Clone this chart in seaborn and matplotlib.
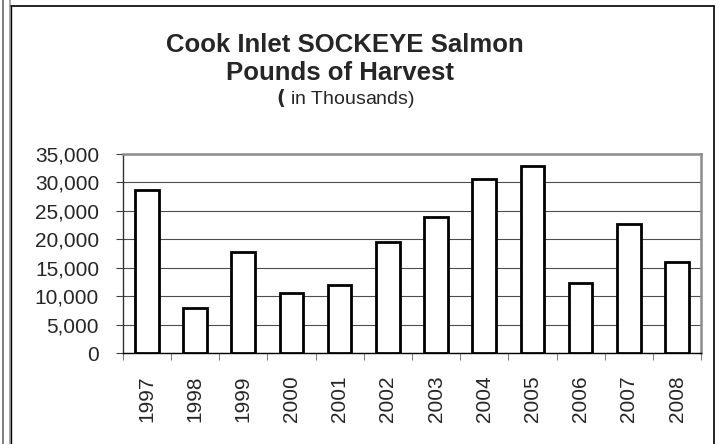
import numpy as np
import pandas as pd
import seaborn as sns
import matplotlib.pyplot as plt
from matplotlib.lines import Line2D
from matplotlib.ticker import FuncFormatter, FixedLocator

years = ['1997', '1998', '1999', '2000', '2001', '2002',
         '2003', '2004', '2005', '2006', '2007', '2008']
pounds = [28700, 8000, 17850, 10600, 12050, 19600,
          23900, 30600, 32900, 12300, 22650, 16100]

df = pd.DataFrame({'year': years, 'pounds': pounds})

sns.set_style('white')
plt.rcParams['font.family'] = ['Liberation Sans', 'DejaVu Sans']

fig = plt.figure(figsize=(7.19, 4.44), dpi=100)
ax = fig.add_axes([0.1707, 0.2043, 0.8045, 0.4489])

sns.barplot(data=df, x='year', y='pounds', color='white', edgecolor='black',
            linewidth=2.0, width=0.49, saturation=1, ax=ax, zorder=3)

ax.set_xlim(-0.5, 11.5)
ax.set_ylim(0, 35000)
ax.set_yticks(np.arange(0, 35001, 5000))
ax.yaxis.set_major_formatter(FuncFormatter(lambda v, p: f'{int(v):,}'))
ax.grid(axis='y', color='#4d4d4d', linewidth=0.8, zorder=0)
ax.set_axisbelow(True)

ax.set_xlabel('')
ax.set_ylabel('')
ax.tick_params(axis='y', labelsize=15, length=5, width=0.8, color='#404040',
               direction='out', left=True, pad=12)
ax.tick_params(axis='x', which='major', labelsize=15, length=0, pad=16,
               labelrotation=90)
ax.xaxis.set_minor_locator(FixedLocator(np.arange(-0.5, 12, 1)))
ax.tick_params(axis='x', which='minor', length=5, width=0.8, color='#808080',
               direction='out', bottom=True)

for side in ['top', 'right']:
    ax.spines[side].set_color('#8c8c8c')
    ax.spines[side].set_linewidth(1.8)
ax.spines['left'].set_color('#333333')
ax.spines['left'].set_linewidth(1.0)
ax.spines['bottom'].set_color('black')
ax.spines['bottom'].set_linewidth(1.0)

# titles
fig.text(0.479, 0.898, 'Cook Inlet SOCKEYE Salmon', ha='center', va='center',
         fontsize=18.5, fontweight='bold')
fig.text(0.473, 0.836, 'Pounds of Harvest', ha='center', va='center',
         fontsize=18.5, fontweight='bold')
fig.text(0.48, 0.778, r'$\bf{(}$ in Thousands)', ha='center', va='center',
         fontsize=14)

# chart frame
W, H = 719, 444
def fx(p):
    return p / W
def fy(p):
    return 1 - p / H
fig.add_artist(Line2D([fx(2.5), fx(2.5)], [0, 1], color='#666666', lw=1.2))
fig.add_artist(Line2D([fx(9.5), fx(9.5)], [0, 1], color='#999999', lw=1.2))
fig.add_artist(Line2D([fx(10.8), fx(10.8)], [0, fy(6)], color='black', lw=1.0))
fig.add_artist(Line2D([fx(10.5), fx(714)], [fy(6), fy(6)], color='black', lw=1.2))
fig.add_artist(Line2D([fx(714), fx(714)], [0, fy(6)], color='black', lw=1.2))

fig.savefig('out.png', dpi=100)
